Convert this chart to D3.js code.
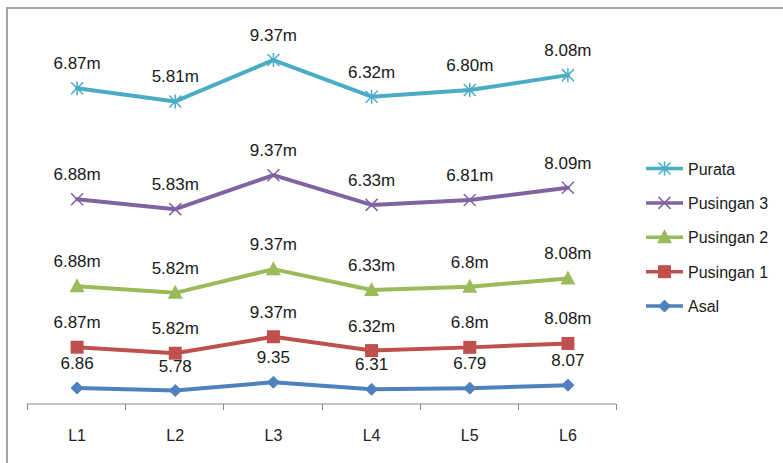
<!DOCTYPE html>
<html>
<head>
<meta charset="utf-8">
<script src="https://cdn.jsdelivr.net/npm/d3@7/dist/d3.min.js"></script>
<style>
  html, body { margin: 0; padding: 0; background: #fff; }
  svg { display: block; font-family: "Liberation Sans", Arial, sans-serif; }
</style>
</head>
<body>
<svg id="chart" width="783" height="463"></svg>
<script>
// ---- data ----
const categories = ["L1", "L2", "L3", "L4", "L5", "L6"];
const seriesNames = ["Asal", "Pusingan 1", "Pusingan 2", "Pusingan 3", "Purata"];

// plotted (stacked) values
const asalValues      = [6.86, 5.78, 9.35, 6.31, 6.79, 8.07];
const pusingan1Values = [17.5, 16.0, 19.5, 16.6, 17.5, 17.9];
const pusingan2Values = [26.1, 25.9, 29.0, 26.0, 26.0, 27.9];
const pusingan3Values = [37.4, 35.9, 40.3, 36.5, 37.2, 38.9];
const purataValues    = [47.6, 46.2, 49.4, 46.4, 47.2, 48.3];

// data label texts
const asalLabels      = ["6.86", "5.78", "9.35", "6.31", "6.79", "8.07"];
const pusingan1Labels = ["6.87m", "5.82m", "9.37m", "6.32m", "6.8m", "8.08m"];
const pusingan2Labels = ["6.88m", "5.82m", "9.37m", "6.33m", "6.8m", "8.08m"];
const pusingan3Labels = ["6.88m", "5.83m", "9.37m", "6.33m", "6.81m", "8.09m"];
const purataLabels    = ["6.87m", "5.81m", "9.37m", "6.32m", "6.80m", "8.08m"];

const yDomain = [0, 160];

// ---- build ----
const valuesByName = {
  "Asal": asalValues, "Pusingan 1": pusingan1Values, "Pusingan 2": pusingan2Values,
  "Pusingan 3": pusingan3Values, "Purata": purataValues
};
const labelsByName = {
  "Asal": asalLabels, "Pusingan 1": pusingan1Labels, "Pusingan 2": pusingan2Labels,
  "Pusingan 3": pusingan3Labels, "Purata": purataLabels
};
const colors = {
  "Asal": "#4F81BD", "Pusingan 1": "#C0504D", "Pusingan 2": "#9BBB59",
  "Pusingan 3": "#8064A2", "Purata": "#4BACC6"
};
const markerType = {
  "Asal": "diamond", "Pusingan 1": "square", "Pusingan 2": "triangle",
  "Pusingan 3": "x", "Purata": "star"
};

const rows = categories.map((c, i) => {
  const r = { cat: c };
  seriesNames.forEach(n => r[n] = valuesByName[n][i]);
  return r;
});
const stacked = d3.stack().keys(seriesNames)(rows);

const svg = d3.select("#chart");

// outer chart frame
svg.append("rect").attr("x", 7).attr("y", 8).attr("width", 800).attr("height", 470)
  .attr("fill", "none").attr("stroke", "#a5a5a5").attr("stroke-width", 2);

const x = d3.scaleBand().domain(categories).range([27, 616]);
const y = d3.scaleLinear().domain(yDomain).range([404, 31]);
const cx = c => x(c) + x.bandwidth() / 2 + 1;

// x axis
const axisG = svg.append("g").attr("transform", "translate(0,404)");
axisG.append("line").attr("x1", 27).attr("x2", 616).attr("y1", 0).attr("y2", 0)
  .attr("stroke", "#868686").attr("stroke-width", 1);
const tickPos = categories.map(c => x(c)).concat([x(categories[categories.length - 1]) + x.bandwidth()]);
axisG.selectAll("line.tick").data(tickPos).enter().append("line")
  .attr("class", "tick")
  .attr("x1", d => Math.round(d) + 0.5).attr("x2", d => Math.round(d) + 0.5)
  .attr("y1", 0).attr("y2", 6).attr("stroke", "#868686");
axisG.selectAll("text").data(categories).enter().append("text")
  .attr("x", d => cx(d)).attr("y", 37)
  .attr("text-anchor", "middle").attr("font-size", 16).attr("fill", "#222")
  .text(d => d);

function drawMarker(g, type, color, px, py) {
  if (type === "diamond") {
    g.append("path").attr("d", `M${px},${py-6}L${px+6},${py}L${px},${py+6}L${px-6},${py}Z`)
      .attr("fill", color).attr("stroke", color).attr("stroke-width", 1);
  } else if (type === "square") {
    g.append("rect").attr("x", px - 6.5).attr("y", py - 6.5).attr("width", 13).attr("height", 13)
      .attr("fill", color);
  } else if (type === "triangle") {
    g.append("path").attr("d", `M${px},${py-8}L${px+7.5},${py+6}L${px-7.5},${py+6}Z`)
      .attr("fill", color);
  } else if (type === "x") {
    g.append("path").attr("d", `M${px-6},${py-6}L${px+6},${py+6}M${px-6},${py+6}L${px+6},${py-6}`)
      .attr("stroke", color).attr("stroke-width", 1.5).attr("fill", "none");
  } else if (type === "star") {
    g.append("path").attr("d", `M${px-6},${py-6}L${px+6},${py+6}M${px-6},${py+6}L${px+6},${py-6}M${px},${py-7}L${px},${py+7}`)
      .attr("stroke", color).attr("stroke-width", 1.5).attr("fill", "none");
  }
}

const line = d3.line().x(d => cx(d.data.cat)).y(d => y(d[1]));

stacked.forEach(layer => {
  const name = layer.key;
  const col = colors[name];
  const g = svg.append("g");
  g.append("path").datum(layer).attr("d", line)
    .attr("fill", "none").attr("stroke", col).attr("stroke-width", 4)
    .attr("stroke-linejoin", "round").attr("stroke-linecap", "round");
  layer.forEach(d => drawMarker(g, markerType[name], col, cx(d.data.cat), y(d[1])));
  g.selectAll("text").data(layer).enter().append("text")
    .attr("x", d => cx(d.data.cat)).attr("y", d => y(d[1]) - 19)
    .attr("text-anchor", "middle").attr("font-size", 17).attr("fill", "#1a1a1a")
    .text((d, i) => labelsByName[name][i]);
});

// legend
const legendOrder = ["Purata", "Pusingan 3", "Pusingan 2", "Pusingan 1", "Asal"];
const lg = svg.append("g");
legendOrder.forEach((name, i) => {
  const ly = 168.5 + i * 34.4;
  const col = colors[name];
  lg.append("line").attr("x1", 646).attr("x2", 683).attr("y1", ly).attr("y2", ly)
    .attr("stroke", col).attr("stroke-width", 3.5);
  drawMarker(lg, markerType[name], col, 664.5, ly);
  lg.append("text").attr("x", 688).attr("y", ly + 6).attr("font-size", 16)
    .attr("fill", "#1a1a1a").text(name);
});
</script>
</body>
</html>
